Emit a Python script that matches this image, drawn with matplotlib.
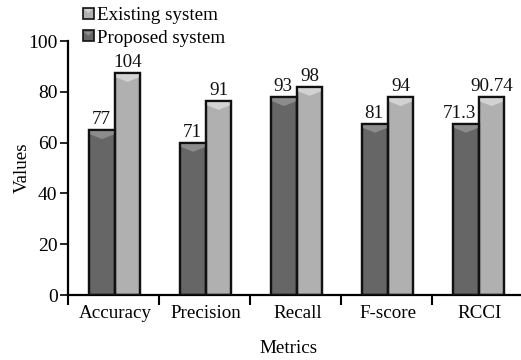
#!/usr/bin/env python3
"""Grouped bars with a bevelled top, existing vs proposed system."""
import matplotlib
matplotlib.use('Agg')
import matplotlib.pyplot as plt
from matplotlib.legend_handler import HandlerBase
from matplotlib.patches import Patch, Polygon, Rectangle

plt.rcParams['font.family'] = ['Liberation Serif', 'DejaVu Serif']

metrics = ['Accuracy', 'Precision', 'Recall', 'F-score', 'RCCI']
# bar heights as drawn against the axis (the printed labels do not agree with them)
proposed = [65, 60, 78, 67.5, 67.5]
existing = [87.5, 76.5, 82, 78, 78]
proposed_labels = ['77', '71', '93', '81', '71.3']
existing_labels = ['104', '91', '98', '94', '90.74']

DARK, DARK_TOP = '#666666', '#8c8c8c'
LIGHT, LIGHT_TOP = '#b0b0b0', '#d2d2d2'
EDGE = '#111111'
BAR_W = 0.28
BAR_SHIFT = 0.015
BEVEL = 3.6


def draw_bar(ax, x, value, face, top):
    ax.bar(x, value, BAR_W, color=face, edgecolor=EDGE, linewidth=1.6, zorder=2)
    # chevron shaped highlight under the top edge
    left, right = x - BAR_W / 2, x + BAR_W / 2
    ax.add_patch(Polygon([(left, value), (right, value), (right, value - BEVEL * 0.45),
                          (x, value - BEVEL), (left, value - BEVEL * 0.45)],
                         closed=True, facecolor=top, edgecolor='none', zorder=3))
    ax.bar(x, value, BAR_W, fill=False, edgecolor=EDGE, linewidth=1.6, zorder=4)


class BevelHandler(HandlerBase):
    def create_artists(self, legend, orig, xd, yd, width, height, fontsize, trans):
        w = height * 1.05
        x0 = (width - w) / 2 - xd
        y0 = -yd
        box = Rectangle((x0, y0), w, height, facecolor=orig.get_facecolor(),
                        edgecolor=EDGE, linewidth=1.2, transform=trans)
        tip = Polygon([(x0 + 1, y0 + height - 1), (x0 + w - 1, y0 + height - 1),
                       (x0 + w / 2, y0 + height * 0.5)], closed=True,
                      facecolor=orig.get_edgecolor(), edgecolor='none', transform=trans)
        return [box, tip]


fig = plt.figure(figsize=(5.21, 3.60), dpi=100)
ax = fig.add_axes([68 / 521, 65 / 360, 453 / 521, 254 / 360])

for i in range(len(metrics)):
    xd = i - BAR_W / 2 + BAR_SHIFT
    xl = i + BAR_W / 2 + BAR_SHIFT
    draw_bar(ax, xd, proposed[i], DARK, DARK_TOP)
    draw_bar(ax, xl, existing[i], LIGHT, LIGHT_TOP)
    # the two RCCI labels are wide, nudge them apart
    ax.text(xd - (0.07 if i == 4 else 0.01), proposed[i] + 0.8, proposed_labels[i],
            ha='center', va='bottom', fontsize=13.7, color='#111111')
    ax.text(xl, existing[i] + 0.8, existing_labels[i],
            ha='center', va='bottom', fontsize=13.7, color='#111111')

ax.set_xlim(-0.5, 4.478)
ax.set_ylim(0, 100)
ax.set_yticks([0, 20, 40, 60, 80, 100])
ax.set_xticks([-0.5, 0.5, 1.5, 2.5, 3.5])
ax.set_xticklabels([])
ax.set_xticks([i + 0.02 for i in range(len(metrics))], metrics, minor=True)
ax.tick_params(axis='x', which='minor', length=0, pad=7, labelsize=13.7)
ax.tick_params(axis='x', which='major', length=7.5, width=1.5)
ax.tick_params(axis='y', length=5.5, width=1.2, labelsize=14, pad=2)
for side in ['top', 'right']:
    ax.spines[side].set_visible(False)
for side in ['left', 'bottom']:
    ax.spines[side].set_linewidth(1.6)

ax.set_xlabel('Metrics', fontsize=13.7, labelpad=13.5, x=0.486)
ax.set_ylabel('Values', fontsize=13.7, labelpad=-1.5)

handles = [Patch(facecolor=LIGHT, edgecolor=LIGHT_TOP), Patch(facecolor=DARK, edgecolor=DARK_TOP)]
ax.legend(handles, ['Existing system', 'Proposed system'], frameon=False, fontsize=13.7,
          handler_map={Patch: BevelHandler()}, loc='lower left',
          bbox_to_anchor=(15 / 453, 0.978), borderaxespad=0, borderpad=0,
          labelspacing=0.3, handlelength=0.55, handleheight=0.5, handletextpad=0.2)

fig.savefig('out.png', dpi=100)
